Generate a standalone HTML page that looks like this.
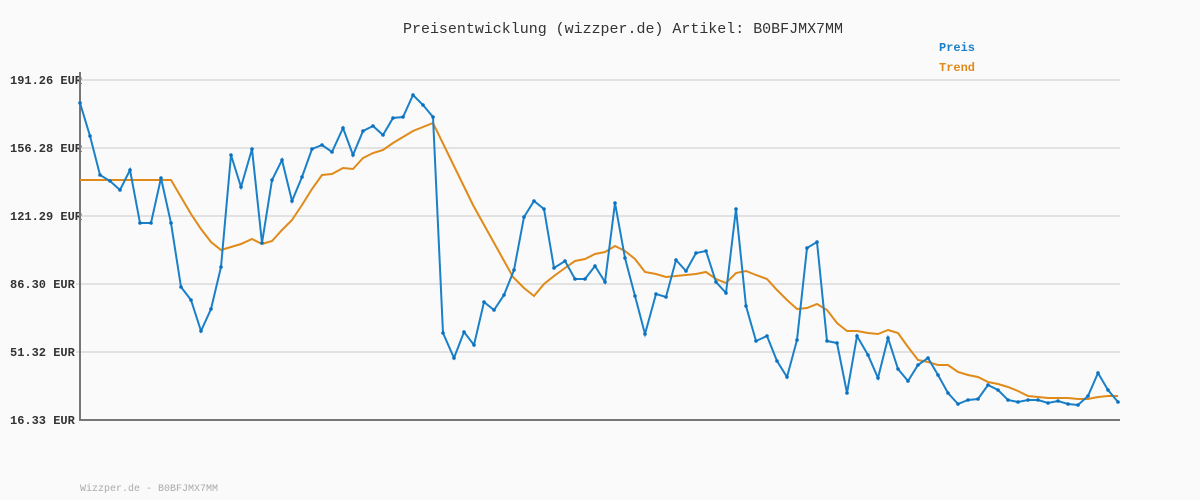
<!DOCTYPE html>
<html><head><meta charset="utf-8"><style>
html,body{margin:0;padding:0;background:#fafafa}
svg{display:block}
text{font-family:"Liberation Mono",monospace}
</style></head><body>
<svg width="1200" height="500" viewBox="0 0 1200 500" xmlns="http://www.w3.org/2000/svg">
<rect width="1200" height="500" fill="#fafafa"/>
<text x="403" y="33" font-size="14.5" fill="#333" textLength="440" lengthAdjust="spacingAndGlyphs">Preisentwicklung (wizzper.de) Artikel: B0BFJMX7MM</text>
<text x="939" y="51" font-size="12" font-weight="bold" fill="#1a80c8">Preis</text>
<text x="939" y="71" font-size="12" font-weight="bold" fill="#e08a1a">Trend</text>
<g stroke="#e2e2e2" stroke-width="2">
<line x1="76" y1="80" x2="1120" y2="80"/><line x1="76" y1="148" x2="1120" y2="148"/><line x1="76" y1="216" x2="1120" y2="216"/><line x1="76" y1="284" x2="1120" y2="284"/><line x1="76" y1="352" x2="1120" y2="352"/>
</g>
<g font-size="12" font-weight="bold" fill="#333">
<text x="10" y="84">191.26 EUR</text><text x="10" y="152">156.28 EUR</text><text x="10" y="220">121.29 EUR</text><text x="10" y="288">86.30 EUR</text><text x="10" y="356">51.32 EUR</text><text x="10" y="424">16.33 EUR</text>
</g>
<line x1="80" y1="72" x2="80" y2="421" stroke="#777" stroke-width="2"/>
<line x1="79" y1="420" x2="1120" y2="420" stroke="#777" stroke-width="2"/>
<polyline fill="none" stroke="#e08a1a" stroke-width="2" points="80,180 171,180 181,197 191,214 201,229 211,242 221,250 231,247 241,244 252,239 262,244 272,241 282,230 292,220 302,205 312,189 322,175 332,174 343,168 353,169 363,158 373,153 383,150 393,143 403,137 413,131 423,127 433,123 453,164 473,205 493,241 513,277 524,288 534,296 544,284 554,276 565,268 575,261 585,259 595,254 605,252 615,246 625,251 635,259 645,272 656,274 666,277 676,276 686,275 696,274 706,272 716,279 726,283 736,273 746,271 756,275 767,279 777,290 787,300 797,309 807,308 817,304 827,310 837,323 847,331 857,331 868,333 878,334 888,330 898,333 908,347 918,360 928,362 938,365 948,365 958,372 968,375 978,377 988,382 998,384 1008,387 1018,391 1028,396 1038,397 1048,398 1058,398 1068,398 1078,399 1088,399 1098,397 1108,396 1118,396"/>
<polyline id="p" fill="none" stroke="#1a80c8" stroke-width="2" points="80,103 90,136 100,175 110,181 120,190 130,170 140,223 151,223 161,178 171,223 181,287 191,300 201,331 211,309 221,267 231,155 241,187 252,149 262,243 272,180 282,160 292,201 302,177 312,149 322,145 332,152 343,128 353,155 363,131 373,126 383,135 393,118 403,117 413,95 423,105 433,117 443,333 454,358 464,332 474,345 484,302 494,310 504,295 514,270 524,217 534,201 544,209 554,268 565,261 575,279 585,279 595,266 605,282 615,203 625,258 635,296 645,334 656,294 666,297 676,260 686,271 696,253 706,251 716,282 726,293 736,209 746,306 756,341 767,336 777,361 787,377 797,340 807,248 817,242 827,341 837,343 847,393 857,336 868,355 878,378 888,338 898,369 908,381 918,365 928,358 938,375 948,393 958,404 968,400 978,399 988,385 998,390 1008,400 1018,402 1028,400 1038,400 1048,403 1058,401 1068,404 1078,405 1088,396 1098,373 1108,390 1118,402"/>
<g fill="#0a70c0" id="dots"></g>
<text x="80" y="491" font-size="10" fill="#aaa">Wizzper.de - B0BFJMX7MM</text>
</svg>
<script>
var pts=document.getElementById('p').getAttribute('points').trim().split(/\s+/);
var g=document.getElementById('dots');
pts.forEach(function(s){var a=s.split(',');var c=document.createElementNS('http://www.w3.org/2000/svg','circle');c.setAttribute('cx',a[0]);c.setAttribute('cy',a[1]);c.setAttribute('r','1.8');g.appendChild(c);});
</script>
</body></html>
